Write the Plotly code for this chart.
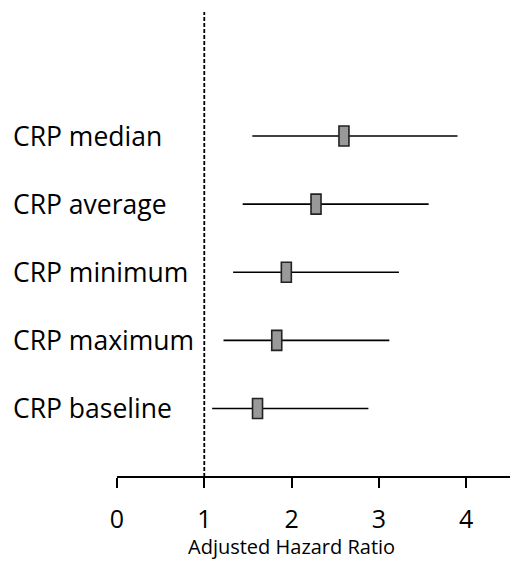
import plotly.graph_objects as go

labels = ["CRP median", "CRP average", "CRP minimum", "CRP maximum", "CRP baseline"]
hr = [2.60, 2.28, 1.94, 1.83, 1.61]
ci_low = [1.55, 1.44, 1.33, 1.22, 1.09]
ci_high = [3.90, 3.57, 3.23, 3.12, 2.88]
rows = [5, 4, 3, 2, 1]
tick_vals = [0, 1, 2, 3, 4]
tick_text = ["0", "1", "2", "3", "4"]
x_title = "Adjusted Hazard Ratio"

FONT = "Open Sans"
fig = go.Figure()

# CI lines
for lo, hi, r in zip(ci_low, ci_high, rows):
    fig.add_trace(go.Scatter(x=[lo, hi], y=[r, r], mode="lines",
                             line=dict(color="black", width=1.6),
                             showlegend=False, hoverinfo="skip"))

shapes = []
# reference line at HR = 1
shapes.append(dict(type="line", xref="x", yref="paper", x0=1, x1=1, y0=0, y1=1,
                   line=dict(color="black", width=1.8, dash="4px,2px")))
# x axis line from 0 to right edge
shapes.append(dict(type="line", xref="x", yref="paper", x0=0, x1=4.51, y0=0, y1=0,
                   line=dict(color="black", width=1.8)))
# point estimate boxes
for v, r in zip(hr, rows):
    shapes.append(dict(type="rect", xref="x", yref="y",
                       xsizemode="pixel", xanchor=v, x0=-5, x1=5,
                       ysizemode="pixel", yanchor=r, y0=-10, y1=10,
                       fillcolor="#999999", line=dict(color="#222222", width=1.6)))

annotations = []
for lab, r in zip(labels, rows):
    annotations.append(dict(text=lab, xref="paper", yref="y", x=0, y=r,
                            xanchor="left", yanchor="middle", xshift=11,
                            showarrow=False, font=dict(family=FONT, size=26.5, color="black")))
annotations.append(dict(text=x_title, xref="x", yref="paper", x=2, y=0,
                        xanchor="center", yanchor="bottom", yshift=-85,
                        showarrow=False, font=dict(family=FONT, size=20, color="black")))

fig.update_layout(
    width=510, height=562,
    margin=dict(l=0, r=0, t=12, b=85),
    plot_bgcolor="white", paper_bgcolor="white",
    shapes=shapes, annotations=annotations,
    xaxis=dict(range=[-1.34, 4.502], tickvals=tick_vals, ticktext=tick_text,
               ticks="outside", ticklen=10, tickwidth=1.8, tickcolor="black",
               showline=False, showgrid=False, zeroline=False,
               tickfont=dict(family=FONT, size=25, color="black"),
               ticklabelstandoff=10),
    yaxis=dict(range=[-0.006, 6.82], showticklabels=False, showgrid=False,
               zeroline=False, showline=False, ticks=""),
)

fig.write_html("out.html")
